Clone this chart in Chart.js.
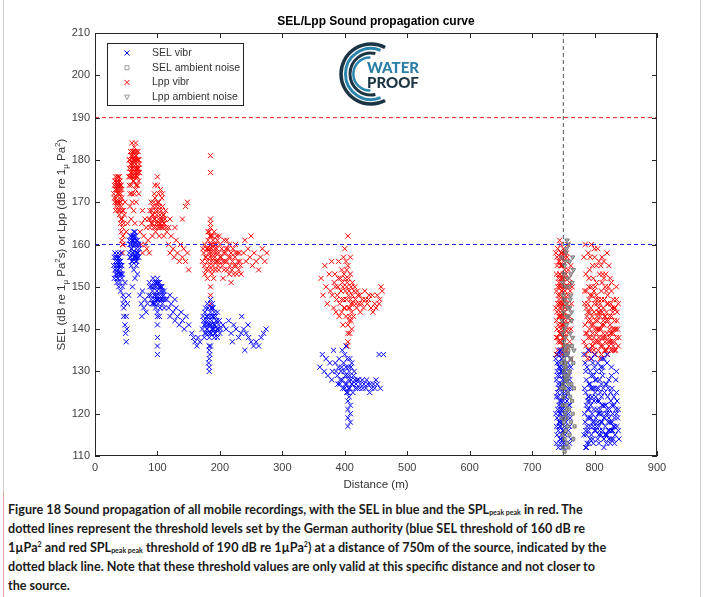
<!DOCTYPE html>
<html><head><meta charset="utf-8">
<script src="https://cdn.jsdelivr.net/npm/chart.js@4/dist/chart.umd.min.js"></script>
<style>
html,body{margin:0;padding:0;background:#fff;}
#wrap{position:relative;width:704px;height:597px;overflow:hidden;background:#fff;}
#c{position:absolute;left:0;top:0;}
#logo{position:absolute;left:335px;top:40px;}
#cap{position:absolute;left:8px;top:500px;font-family:Lato,"Noto Sans",sans-serif;font-weight:700;font-size:12.6px;line-height:19px;color:#1a1a1a;white-space:nowrap;}
#cap sub{font-size:7px;vertical-align:-1px;line-height:0;}
#cap sup{font-size:7px;vertical-align:5px;line-height:0;}
#bl{position:absolute;left:3px;top:0;width:1px;height:597px;background:#cfcfcf;}
#bl2{position:absolute;left:3px;top:492px;width:1px;height:105px;background:#e0a0a0;}
#br{position:absolute;left:700px;top:0;width:1px;height:597px;background:#cfcfcf;}
</style></head>
<body>
<div id="wrap">
<canvas id="c" width="704" height="495"></canvas>
<svg id="logo" width="100" height="72" viewBox="0 0 100 72">
  <g fill="none" stroke-linecap="butt">
    <path id="r1" stroke="#1c3544" stroke-width="3.5"/>
    <path id="r2" stroke="#2a86ad" stroke-width="3"/>
    <path id="r3" stroke="#1c3544" stroke-width="3"/>
    <path id="r4" stroke="#2a86ad" stroke-width="2.5"/>
  </g>
  <text x="32" y="33" font-family="Lato,'Noto Sans',sans-serif" font-weight="900" font-size="15" fill="#2a7ea6">WATER</text>
  <text x="32" y="47.5" font-family="Lato,'Noto Sans',sans-serif" font-weight="900" font-size="15" fill="#1c3544">PROOF</text>
</svg>
<div id="cap">Figure 18 Sound propagation of all mobile recordings, with the SEL in blue and the SPL<sub>peak peak</sub> in red. The<br>dotted lines represent the threshold levels set by the German authority (blue SEL threshold of 160 dB re<br>1µPa<sup>2</sup> and red SPL<sub>peak peak</sub> threshold of 190 dB re 1µPa<sup>2</sup>) at a distance of 750m of the source, indicated by the<br>dotted black line. Note that these threshold values are only valid at this specific distance and not closer to<br>the source.</div>
<div id="bl"></div><div id="bl2"></div><div id="br"></div>
</div>
<script>
// ---------- DATA (distance m, level dB) ----------
const xRange = [0, 900];
const yRange = [110, 210];
const selThreshold = 160;
const lppThreshold = 190;
const thresholdDistance = 750;

// SEL vibr, recordings closer than 300 m
const selVibrNear = [
 [34,155],[35,157],[35,153],[36,156],[37,154],[37,158],[38,155],[39,153],[39,157],[40,156],[41,154],[42,155],[43,152],[44,150],[45,148],[45,146],[46,145],[46,143],[47,147],[48,151],[36,152],[40,151],[42,158],[38,150],[41,149],
 [30,155],[31,157],[32,154],[33,156],[33,153],[34,157],[35,155],[36,154],[37,156],[38,157],[39,155],[40,153],[41,156],[42,153],[43,155],[31,152],[32,158],[44,153],[35,151],[37,152],
 [55,158],[56,160],[57,157],[58,162],[59,159],[60,156],[60,161],[61,158],[62,163],[63,160],[64,157],[65,162],[66,159],[67,156],[68,161],[69,158],[70,160],[58,155],[62,154],[66,155],[64,152],[60,150],[68,153],[57,160],[61,162],[65,158],[67,160],[63,157],[59,156],
 [55,161],[56,157],[57,162],[58,159],[59,161],[60,158],[61,160],[62,157],[62,161],[63,162],[64,160],[65,156],[66,161],[67,158],[68,157],[69,160],[70,157],[71,159],[64,163],[66,157],
 [48,141],[49,139],[50,137],[51,140],[50,143],[52,146],[54,148],
 [86,148],[88,150],[90,147],[92,149],[93,152],[94,146],[95,150],[96,148],[97,151],[98,147],[99,149],[100,152],[101,146],[102,150],[103,148],[104,145],[105,149],[106,147],[107,150],[108,146],[110,148],[111,145],[100,144],[100,141],[100,138],[100,136],[100,134],[100,143],[97,145],[103,143],[95,147],[99,151],[104,150],
 [87,151],[89,148],[91,150],[92,146],[94,151],[95,148],[96,146],[98,150],[99,148],[100,147],[101,151],[102,147],[103,151],[105,147],[106,150],[107,148],[108,149],[109,147],[111,149],[112,147],
 [72,148],[74,146],[76,149],[78,145],[80,147],[82,144],[84,146],[75,143],
 [115,147],[118,145],[120,143],[122,146],[125,144],[128,142],[130,145],[132,143],[135,141],[138,144],[140,142],[143,140],[146,143],[150,141],[155,139],[158,138],[120,148],[128,147],
 [172,140],[174,142],[175,138],[176,144],[177,141],[178,139],[179,143],[180,140],[181,145],[182,142],[183,138],[184,141],[185,144],[186,139],[187,142],[188,146],[189,140],[190,143],[191,138],[192,141],[193,139],[194,142],[195,140],[196,138],[198,141],[200,139],[185,147],[183,135],[183,133],[183,131],[183,130],[185,136],[187,145],[160,137],[163,136],[165,138],[168,137],[180,143],[186,141],[190,140],
 [173,143],[175,141],[176,139],[177,145],[178,142],[179,140],[180,146],[181,141],[182,139],[184,143],[185,139],[186,145],[187,140],[188,143],[189,145],[190,141],[191,144],[192,139],[193,143],[195,142],[196,144],[197,140],[199,142],[201,140],[183,136],[184,134],[182,132],
 [205,141],[210,140],[214,142],[218,139],[222,141],[226,140],[230,138],[234,139],[238,140],[242,139],[246,138],[250,137],[254,136],[258,137],[262,136],[266,138],[270,139],[274,140],[235,143],[245,141],[220,137],[240,135]
];
// SEL vibr, around 400 m
const selVibrMid = [
 [380,130],[385,132],[388,129],[390,131],[392,127],[394,130],[396,128],[398,132],[400,126],[401,129],[402,131],[403,127],[404,133],[405,125],[405,123],[405,121],[405,119],[405,117],[406,128],[407,130],[408,126],[410,128],[412,127],[414,129],[416,128],[418,127],[420,126],[422,128],[425,127],[428,128],[431,127],[434,126],[437,127],[440,125],[443,126],[446,127],[450,128],[455,134],[396,135],[402,136],[400,134],[404,129],[406,131],
 [360,131],[364,134],[367,130],[370,133],[373,129],[376,132],[379,128],[382,135],[386,130],[389,127],[391,133],[393,128],[395,131],[397,126],[399,130],[401,127],[403,125],[406,126],[407,124],[408,129],[409,122],[409,120],[409,118],[410,131],[411,127],[413,125],[415,130],[417,126],[420,128],[424,126],[429,126],[435,128],[441,127],[448,126],[452,127],[457,126],[462,134],[408,133],[411,132]
];
// SEL vibr, beyond 700 m
const selVibrFar = [
 [746,135],[748,133],[745,131],[750,129],[747,127],[752,125],[744,123],[749,121],[751,119],[746,117],[753,115],[745,113],[748,112],[750,132],[747,130],[752,128],[744,126],[749,124],[751,122],[746,120],[748,118],[750,116],[745,114],[752,134],[747,133],[749,131],[744,129],[751,127],[753,124],[746,123],[748,121],[750,119],[745,118],[752,117],[747,115],[749,113],[751,130],[744,132],[746,127],[748,125],[750,123],[745,121],[747,119],[749,116],[744,135],[753,120],
 [738,133],[740,130],[742,127],[739,124],[741,121],[743,118],[740,115],[742,112],[756,134],[758,131],[760,128],[757,125],[759,122],[761,119],[758,116],[760,113],[741,134],[743,131],[739,128],[741,125],[743,122],[740,119],[742,116],[739,113],[757,132],[759,129],[761,126],[756,123],[758,120],[760,117],[762,114],[738,120],[744,117],[746,130],[748,127],[750,114],[752,121],[754,124],[754,118],[755,128],
 [740,132],[742,124],[744,120],[746,114],[748,130],[750,126],[752,113],[754,128],[756,119],[758,126],[760,122],[762,131],[739,117],[741,129],[743,126],[745,134],[747,122],[749,128],[751,112],[753,130],
 [790,135],[795,133],[800,134],[805,132],[810,131],[815,133],[820,132],[788,131],[793,130],[798,129],[803,130],[808,128],[813,129],[818,127],[823,128],[828,126],[791,127],[796,126],[801,125],[806,126],[811,124],[816,125],[821,124],[826,123],[831,124],[789,123],[794,122],[799,121],[804,123],[809,121],[814,122],[819,120],[824,121],[829,120],[792,119],[797,118],[802,119],[807,117],[812,118],[817,117],[822,118],[827,116],[832,117],[790,116],[795,115],[800,116],[805,114],[810,115],[815,114],[820,115],[825,113],[830,114],[788,113],[793,114],[798,113],[803,117],[808,120],[813,116],[818,122],[823,119],[828,118],[791,121],[796,124],[801,128],[811,127],[789,119],[787,115],[787,112],
 [783,134],[786,130],[784,126],[787,122],[785,118],[783,115],[786,112],[835,125],[838,121],[836,117],[839,114],[834,128],[837,119],[833,115],[797,132],[803,128],[813,131],[827,129],[791,124],[799,126],[807,123],[817,122],[822,126],[831,122],[794,119],[802,116],[812,120],[822,116],[832,113],[797,114],[807,113],[817,115],[827,114],[793,117],[815,119],[825,118],[835,120],[789,121],[805,118],[819,113],[829,116],[799,123],[809,125],[786,125],[838,116],[820,134],[812,133],[800,131],[785,132],[793,127],
 [784,120],[788,117],[792,123],[796,120],[800,118],[804,121],[808,116],[812,122],[816,119],[820,121],[824,116],[828,122],[832,119],[836,123],[786,116],[790,124],[794,126],[798,117],[802,124],[806,120],[810,118],[814,126],[818,115],[822,120],[826,125],[830,117],[834,121],[787,128],[795,129],[803,126],[811,130],[819,127],[827,131],[835,130],[791,113],[807,115],[823,114],[815,112]
];

const selAmbient = [
 [750,112],[752,114],[754,116],[751,118],[753,120],[755,122],[750,124],[752,126],[754,128],[751,130],[753,132],[755,134],[756,113],[757,117],[749,115],[756,121],[750,127],[757,125],[752,111],[754,131],[756,129],[751,133],[753,136],[755,119],[749,122],
 [758,112],[760,115],[762,118],[759,121],[761,124],[763,127],[760,130],[762,133],[764,136],[766,114],[765,120],[767,126],[758,129],[764,123],[766,132],[768,117],[747,119],[746,126],[748,132],[758,135]
];

// Lpp vibr, recordings closer than 300 m
const lppVibrNear = [
 [34,171],[35,173],[35,175],[36,172],[36,174],[37,170],[37,173],[38,176],[38,172],[39,174],[39,171],[40,173],[40,175],[41,172],[41,170],[42,174],[42,169],[43,171],[44,168],[36,176],[34,174],[38,169],[40,168],[43,166],[44,164],[45,162],[45,160],[44,158],[46,165],[47,167],[45,168],[42,166],[48,170],
 [30,172],[31,174],[32,170],[32,175],[33,173],[33,176],[34,169],[36,170],[37,175],[38,174],[39,176],[40,170],[41,174],[43,173],[31,171],[33,168],[35,170],[37,168],[39,167],[41,165],[42,163],[43,161],[44,160],
 [54,176],[55,178],[56,180],[57,177],[58,179],[58,181],[59,176],[60,178],[60,182],[61,179],[62,177],[62,180],[63,183],[63,178],[64,176],[64,180],[65,184],[65,179],[66,177],[66,181],[67,178],[68,180],[68,176],[69,182],[70,178],[70,175],[71,177],[57,182],[59,184],[61,175],[66,174],[55,174],[56,172],[60,170],[62,168],[58,166],[64,165],[52,165],[50,163],[66,170],[70,172],[61,181],[63,180],[67,180],
 [55,180],[56,176],[57,179],[58,177],[59,181],[59,178],[60,176],[60,180],[61,177],[62,182],[63,176],[64,182],[64,178],[65,177],[65,181],[66,179],[67,176],[67,182],[68,178],[69,180],[69,177],[70,180],[71,179],[62,175],[58,174],[68,174],[56,169],[63,172],[65,173],[59,172],
 [86,166],[88,168],[90,165],[90,170],[92,167],[93,169],[94,164],[95,166],[96,171],[97,168],[98,165],[99,167],[100,170],[100,176],[101,164],[102,166],[103,169],[104,167],[105,165],[106,168],[107,171],[108,166],[109,164],[110,167],[111,165],[100,174],[95,172],[105,173],[92,162],[97,163],[103,162],[110,162],
 [88,164],[89,166],[91,168],[92,165],[93,167],[94,170],[96,166],[97,164],[98,169],[99,165],[101,168],[102,170],[103,165],[104,164],[106,166],[107,164],[108,169],[109,167],[110,165],[112,166],[113,168],[114,164],[96,174],[102,172],[108,172],
 [72,163],[74,160],[75,165],[76,158],[78,162],[80,160],[82,164],[83,159],[85,161],[87,158],[76,168],[80,166],
 [115,163],[118,160],[120,158],[122,162],[125,159],[127,157],[130,161],[132,158],[135,156],[137,160],[140,157],[142,159],[145,156],[120,166],[118,164],[128,164],[150,154],[148,158],[145,169],[148,170],[140,166],
 [172,156],[174,158],[175,155],[176,160],[177,157],[178,154],[179,159],[180,156],[181,161],[182,158],[183,155],[184,157],[185,160],[185,181],[185,177],[185,166],[185,165],[185,164],[186,156],[187,159],[188,162],[189,155],[190,158],[191,160],[192,157],[193,154],[194,156],[195,159],[196,161],[197,155],[198,158],[199,156],[200,160],[183,163],[187,153],[180,152],[190,152],[185,150],[185,148],[185,146],[184,162],[188,157],
 [173,159],[176,153],[178,157],[180,159],[182,154],[184,159],[186,158],[188,154],[190,156],[192,159],[194,158],[196,156],[198,154],[200,157],[203,159],[205,156],[207,154],[209,158],[211,156],[213,159],[215,153],[217,157],[219,154],[221,159],[223,155],[225,158],[227,153],[229,156],[231,158],[233,155],[181,163],[186,162],[191,163],[195,162],[183,159],[187,160],[189,161],[193,160],[199,162],[211,161],
 [202,157],[204,155],[206,158],[208,156],[210,159],[212,154],[214,157],[216,155],[218,158],[220,156],[222,153],[224,157],[226,155],[228,158],[230,154],[232,156],[234,153],[207,161],[215,160],[225,160],[205,152],[218,151],
 [238,158],[242,156],[245,159],[248,157],[252,155],[255,158],[258,156],[262,154],[265,157],[268,159],[272,156],[275,158],[250,162],[240,161]
];
// Lpp vibr, around 400 m
const lppVibrMid = [
 [385,150],[388,148],[390,152],[392,146],[394,149],[395,144],[396,151],[398,147],[399,153],[400,145],[400,159],[401,149],[402,143],[403,147],[404,151],[405,162],[405,155],[405,141],[405,139],[405,137],[406,145],[407,149],[408,143],[409,147],[410,150],[411,144],[412,148],[413,146],[415,149],[417,147],[419,145],[421,148],[423,146],[425,144],[428,147],[430,145],[433,147],[436,146],[439,148],[442,145],[445,144],[448,146],[452,148],[455,146],[458,150],[390,156],[395,154],[398,157],[402,156],[380,148],[383,151],[386,144],[397,141],[408,139],[404,136],[406,152],[403,154],
 [362,152],[365,148],[368,155],[370,150],[372,146],[375,153],[377,149],[379,156],[382,145],[384,153],[387,147],[389,150],[391,143],[393,152],[395,147],[397,150],[399,145],[401,152],[403,150],[406,148],[407,142],[409,153],[410,146],[411,140],[412,151],[414,143],[416,150],[418,146],[420,149],[424,148],[427,146],[432,149],[438,147],[444,148],[450,145],[456,147],[460,149],[409,157],[408,145],[410,142]
];
// Lpp vibr, beyond 700 m
const lppVibrFar = [
 [746,160],[748,158],[745,157],[750,156],[747,155],[752,154],[744,153],[749,152],[751,151],[746,150],[753,149],[745,148],[748,147],[750,146],[747,145],[752,144],[744,143],[749,142],[751,141],[746,140],[748,139],[750,138],[745,137],[752,136],[747,135],[749,134],[744,150],[746,146],[748,143],[750,150],[752,148],[745,144],[747,141],[749,138],[751,136],[753,140],[746,155],[748,152],[750,159],[744,156],[754,153],[747,149],[749,146],[751,143],[745,139],[753,145],[748,134],[746,137],[752,139],[750,141],[755,150],[755,156],[744,146],[747,151],[749,155],[751,147],
 [738,158],[740,155],[742,152],[739,149],[741,146],[743,143],[740,140],[742,137],[739,134],[756,157],[758,154],[760,151],[757,148],[759,145],[761,142],[758,139],[760,136],[762,133],[741,159],[743,156],[739,153],[741,150],[743,147],[740,144],[742,141],[739,138],[741,135],[757,160],[759,152],[761,149],[763,146],[756,143],[758,140],[760,137],[762,155],[764,150],[744,161],[755,158],[753,135],[754,138],[756,135],[738,145],[744,139],[746,143],[748,149],[750,153],[752,157],[754,147],[746,158],[748,155],
 [740,157],[742,148],[744,145],[746,152],[748,141],[750,144],[752,150],[754,142],[756,146],[758,150],[760,143],[762,140],[739,142],[741,138],[743,151],[745,153],[747,157],[749,136],[751,158],[753,152],
 [790,158],[795,160],[800,157],[805,159],[810,155],[815,156],[792,154],[798,152],[803,155],[808,153],[812,151],[818,153],[822,150],[825,152],[791,150],[796,148],[801,150],[806,147],[811,149],[816,147],[821,148],[826,146],[830,147],[789,146],[794,145],[799,144],[804,146],[809,143],[814,145],[819,144],[824,143],[829,144],[832,142],[790,142],[795,141],[800,140],[805,142],[810,140],[815,141],[820,139],[825,141],[830,139],[788,139],[793,138],[798,137],[803,139],[808,137],[813,136],[818,138],[823,136],[828,137],[832,135],[791,135],[796,136],[801,134],[806,135],[811,134],[816,135],[821,134],[826,135],[789,133],[794,133],[799,138],[804,143],[809,146],[814,139],[819,142],[824,138],[829,140],[792,144],[797,139],[802,147],[807,140],[817,150],[827,143],[812,144],
 [783,157],[786,153],[784,149],[787,145],[785,141],[783,137],[786,134],[835,150],[838,146],[836,142],[839,138],[834,135],[837,140],[833,145],[797,155],[803,151],[813,153],[827,149],[791,147],[799,149],[807,145],[817,143],[822,146],[831,145],[794,142],[802,142],[812,141],[822,142],[832,137],[797,136],[807,138],[817,137],[827,139],[793,148],[815,138],[825,137],[835,138],[789,144],[805,137],[819,135],[829,135],[799,135],[809,133],[786,139],[838,136],[820,158],[812,157],[800,159],[785,160],[793,157],
 [784,146],[788,143],[792,140],[796,143],[800,146],[804,140],[808,144],[812,138],[816,143],[820,146],[824,140],[828,145],[832,140],[836,144],[786,136],[790,138],[794,135],[798,141],[802,137],[806,144],[810,136],[814,142],[818,135],[822,137],[826,139],[830,136],[834,140],[787,149],[795,150],[803,148],[811,147],[819,149],[827,151],[835,147],[791,152],[807,156],[823,155],[815,152]
];

const lppAmbient = [
 [750,126],[752,129],[754,132],[751,135],[753,138],[755,141],[750,144],[752,147],[754,150],[751,153],[753,156],[755,159],[756,128],[757,134],[749,139],[756,143],[750,148],[757,152],[752,155],[754,158],[756,161],[751,137],[753,131],[755,146],[749,151],[752,140],[754,136],[757,145],
 [758,127],[760,130],[762,133],[759,136],[761,139],[763,142],[760,145],[762,148],[764,151],[766,154],[765,157],[758,160],[760,156],[762,153],[759,150],[761,147],[763,144],[765,138],[767,135],[748,142],[747,157],[758,143]
];

// ---------- CHART ----------
const toXY = arr => arr.map(p => ({x: p[0], y: p[1]}));
const C = { sel:'#0000ff', lpp:'#ff0000', amb:'#7f7f7f', axis:'#262626', tick:'#404040' };

function seg(r, a0, a1, cx, cy){
  const rad = d => d*Math.PI/180;
  const x0 = cx + r*Math.cos(rad(a0)), y0 = cy + r*Math.sin(rad(a0));
  const x1 = cx + r*Math.cos(rad(a1)), y1 = cy + r*Math.sin(rad(a1));
  return `M${x0.toFixed(2)},${y0.toFixed(2)} A${r},${r} 0 1 1 ${x1.toFixed(2)},${y1.toFixed(2)}`;
}
document.getElementById('r1').setAttribute('d', seg(30, 62, 298, 36, 34));
document.getElementById('r2').setAttribute('d', seg(25.5, 68, 292, 36, 34));
document.getElementById('r3').setAttribute('d', seg(21, 78, 282, 36, 34));
document.getElementById('r4').setAttribute('d', seg(16.5, 92, 268, 36, 34));

function drawMarker(ctx, type, x, y, color){
  ctx.save(); ctx.strokeStyle = color; ctx.lineWidth = 1; ctx.beginPath();
  if (type === 'x') { const s = 2.5; ctx.moveTo(x-s,y-s); ctx.lineTo(x+s,y+s); ctx.moveTo(x+s,y-s); ctx.lineTo(x-s,y+s); }
  else if (type === 'sq') { ctx.rect(x-2, y-2, 4, 4); }
  else { ctx.moveTo(x-2.5,y-2); ctx.lineTo(x+2.5,y-2); ctx.lineTo(x,y+2.5); ctx.closePath(); }
  ctx.stroke(); ctx.restore();
}

function richText(ctx, parts, cx, cy, size){
  const fam = '"Liberation Sans", Arial, sans-serif';
  const fontFor = p => (p.sub || p.sup ? (size*0.7).toFixed(1) : size) + 'px ' + fam;
  let w = 0;
  parts.forEach(p => { ctx.font = fontFor(p); w += ctx.measureText(p.t).width; });
  let x = cx - w/2;
  ctx.textAlign = 'left'; ctx.textBaseline = 'middle';
  parts.forEach(p => {
    ctx.font = fontFor(p);
    const dy = p.sub ? size*0.3 : (p.sup ? -size*0.4 : 0);
    ctx.fillText(p.t, x, cy + dy);
    x += ctx.measureText(p.t).width;
  });
}

const decor = {
  id: 'decor',
  afterDatasetsDraw(chart){
    const {ctx, chartArea: a, scales: {x, y}} = chart;
    ctx.save();
    ctx.strokeStyle = C.axis; ctx.lineWidth = 1;
    ctx.strokeRect(Math.round(a.left)+0.5, Math.round(a.top)+0.5, Math.round(a.right-a.left)-1, Math.round(a.bottom-a.top)-1);
    const L = 5;
    ctx.beginPath();
    x.ticks.forEach(t => { const p = Math.round(x.getPixelForValue(t.value))+0.5;
      ctx.moveTo(p, a.bottom); ctx.lineTo(p, a.bottom-L); ctx.moveTo(p, a.top); ctx.lineTo(p, a.top+L); });
    y.ticks.forEach(t => { const p = Math.round(y.getPixelForValue(t.value))+0.5;
      ctx.moveTo(a.left, p); ctx.lineTo(a.left+L, p); ctx.moveTo(a.right, p); ctx.lineTo(a.right-L, p); });
    ctx.stroke();
    ctx.fillStyle = '#000'; ctx.textAlign = 'center'; ctx.textBaseline = 'middle';
    ctx.font = 'bold 12px "Liberation Sans", Arial, sans-serif';
    ctx.fillText('SEL/Lpp Sound propagation curve', (a.left+a.right)/2, 22);
    ctx.fillStyle = '#333';
    ctx.font = '11.5px "Liberation Sans", Arial, sans-serif';
    ctx.fillText('Distance (m)', (a.left+a.right)/2, 485);
    ctx.save();
    ctx.translate(62, (a.top+a.bottom)/2);
    ctx.rotate(-Math.PI/2);
    richText(ctx, [
      {t:'SEL (dB re 1'},{t:'\u03bc',sub:true},{t:' Pa'},{t:'2',sup:true},{t:'s) or Lpp (dB re 1'},
      {t:'\u03bc',sub:true},{t:' Pa'},{t:'2',sup:true},{t:')'}], 0, 0, 11.5);
    ctx.restore();
    const lx = 107.5, ly = 43.5, lw = 136, lh = 62;
    ctx.fillStyle = '#fff'; ctx.fillRect(lx, ly, lw, lh);
    ctx.strokeStyle = C.axis; ctx.strokeRect(lx, ly, lw, lh);
    const items = [
      ['x', C.sel, 'SEL vibr'], ['sq', '#9a9a9a', 'SEL ambient noise'],
      ['x', C.lpp, 'Lpp vibr'], ['tri', '#9a9a9a', 'Lpp ambient noise']];
    ctx.font = '10.5px "Liberation Sans", Arial, sans-serif';
    ctx.textAlign = 'left'; ctx.textBaseline = 'middle';
    items.forEach((it, i) => {
      const yy = 53 + i*14.7;
      drawMarker(ctx, it[0], 127, yy, it[1]);
      ctx.fillStyle = '#333'; ctx.fillText(it[2], 152, yy);
    });
    ctx.restore();
  }
};

const ptBase = { showLine: false, pointBorderWidth: 1, pointHoverRadius: 0 };
const selVibr = selVibrNear.concat(selVibrMid, selVibrFar);
const lppVibr = lppVibrNear.concat(lppVibrMid, lppVibrFar);
new Chart(document.getElementById('c'), {
  type: 'scatter',
  data: {
    datasets: [
      Object.assign({ label: 'SEL vibr', data: toXY(selVibr), pointStyle: 'crossRot', pointRadius: 3.6, borderColor: C.sel, backgroundColor: C.sel, order: 3 }, ptBase),
      Object.assign({ label: 'SEL ambient noise', data: toXY(selAmbient), pointStyle: 'rect', pointRadius: 2.2, borderColor: C.amb, backgroundColor: 'rgba(127,127,127,0.6)', order: 2 }, ptBase),
      Object.assign({ label: 'Lpp vibr', data: toXY(lppVibr), pointStyle: 'crossRot', pointRadius: 3.6, borderColor: C.lpp, backgroundColor: C.lpp, order: 4 }, ptBase),
      Object.assign({ label: 'Lpp ambient noise', data: toXY(lppAmbient), pointStyle: 'triangle', rotation: 180, pointRadius: 2.6, borderColor: C.amb, backgroundColor: 'rgba(127,127,127,0.6)', order: 2 }, ptBase),
      { type: 'line', label: 'SEL threshold', data: [{x: xRange[0], y: selThreshold}, {x: xRange[1], y: selThreshold}], borderColor: '#1f1fff', borderWidth: 1, borderDash: [4, 3], pointRadius: 0, order: 1 },
      { type: 'line', label: 'Lpp threshold', data: [{x: xRange[0], y: lppThreshold}, {x: xRange[1], y: lppThreshold}], borderColor: '#ff1f1f', borderWidth: 1, borderDash: [4, 3], pointRadius: 0, order: 1 },
      { type: 'line', label: 'Distance threshold', data: [{x: thresholdDistance, y: yRange[0]}, {x: thresholdDistance, y: yRange[1]}], borderColor: '#555', borderWidth: 1, borderDash: [4, 3], pointRadius: 0, order: 0 }
    ]
  },
  options: {
    responsive: false, animation: false, events: [],
    layout: { padding: { top: 33, right: 47, left: 0, bottom: 0 } },
    plugins: { legend: { display: false }, tooltip: { enabled: false }, title: { display: false } },
    scales: {
      x: { type: 'linear', min: xRange[0], max: xRange[1],
        ticks: { stepSize: 100, font: { family: '"Liberation Sans", Arial, sans-serif', size: 11 }, color: C.tick, padding: 5, maxRotation: 0 },
        grid: { display: false, drawTicks: false }, border: { display: false },
        afterFit: s => { s.height = 39; } },
      y: { type: 'linear', min: yRange[0], max: yRange[1],
        ticks: { stepSize: 10, font: { family: '"Liberation Sans", Arial, sans-serif', size: 11 }, color: C.tick, padding: 5 },
        grid: { display: false, drawTicks: false }, border: { display: false },
        afterFit: s => { s.width = 95; } }
    }
  },
  plugins: [decor]
});
</script>
</body></html>
